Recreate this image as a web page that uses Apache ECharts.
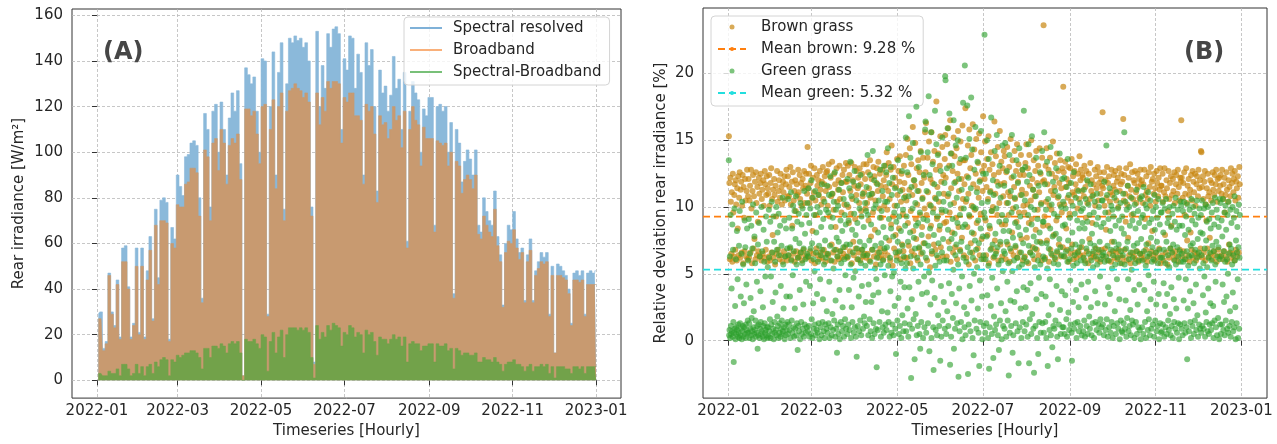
<!DOCTYPE html>
<html>
<head>
<meta charset="utf-8">
<script src="https://cdn.jsdelivr.net/npm/echarts@6/dist/echarts.min.js"></script>
<style>
  html, body { margin: 0; padding: 0; background: #fff; }
  #chart { width: 1277px; height: 444px; }
</style>
</head>
<body>
<div id="chart"></div>
<script>
// x values are days since 2022-01-01
const monthTicks = [0, 59, 120, 181, 243, 304, 365]
const monthLabels = ['2022-01', '2022-03', '2022-05', '2022-07', '2022-09', '2022-11', '2023-01']
const ticksA = [0, 20, 40, 60, 80, 100, 120, 140, 160]
const ticksB = [0, 5, 10, 15, 20]

// panel A: daily peak of the hourly series, one value per 2 days
const spectral = [29, 30, 14, 17, 47, 30, 24, 44, 19, 58, 59, 41, 19, 25, 58, 21, 58, 19, 48, 63,
  27, 75, 45, 79, 80, 78, 18, 67, 62, 90, 85, 81, 98, 99, 104, 105, 103, 80, 36, 117,
  110, 76, 118, 121, 100, 122, 110, 90, 115, 126, 118, 127, 95, 2, 137, 134, 130, 133, 118, 100,
  141, 140, 29, 120, 144, 90, 135, 148, 75, 130, 150, 148, 151, 149, 150, 146, 148, 140, 76, 8,
  153, 120, 138, 128, 152, 146, 154, 155, 152, 110, 141, 136, 151, 150, 128, 143, 135, 90, 148, 138,
  145, 120, 83, 136, 126, 129, 118, 125, 142, 128, 132, 110, 135, 61, 118, 131, 126, 123, 100, 119,
  116, 124, 124, 68, 120, 121, 118, 120, 100, 113, 38, 110, 104, 87, 96, 101, 97, 90, 101, 68,
  65, 80, 74, 70, 68, 83, 63, 55, 33, 60, 68, 66, 74, 62, 56, 58, 35, 55, 62, 35,
  48, 52, 56, 54, 56, 29, 50, 12, 51, 50, 48, 46, 40, 25, 47, 48, 46, 48, 29, 47,
  48, 47, 48]
const broadband = [27, 27, 13, 16, 46, 29, 23, 42, 18, 52, 52, 40, 18, 24, 50, 20, 50, 18, 44, 57,
  26, 68, 42, 70, 70, 69, 17, 60, 58, 77, 76, 76, 86, 87, 93, 93, 91, 72, 34, 101,
  98, 70, 104, 106, 92, 110, 104, 86, 103, 106, 104, 108, 88, 2, 119, 119, 116, 118, 108, 95,
  120, 121, 28, 110, 123, 84, 120, 126, 70, 118, 127, 128, 130, 128, 127, 124, 126, 122, 72, 7,
  126, 112, 124, 118, 131, 128, 131, 131, 130, 104, 124, 122, 126, 126, 116, 116, 114, 86, 121, 118,
  120, 108, 78, 116, 112, 113, 106, 110, 120, 114, 116, 102, 118, 58, 110, 120, 114, 112, 94, 111,
  106, 106, 106, 65, 105, 104, 103, 104, 94, 100, 36, 96, 94, 82, 88, 90, 88, 84, 90, 64,
  62, 72, 68, 65, 63, 75, 59, 52, 32, 56, 61, 60, 66, 58, 53, 56, 34, 52, 57, 34,
  46, 49, 52, 51, 52, 28, 46, 12, 46, 46, 45, 44, 38, 24, 44, 44, 43, 44, 28, 42,
  42, 42, 42]
const spectralMinusBroadband = [3, 3, 2, 2, 4, 3, 3, 5, 2, 7, 7, 5, 2, 3, 7, 3, 6, 2, 6, 7,
  3, 8, 6, 9, 10, 9, 2, 9, 8, 11, 10, 11, 12, 12, 13, 13, 12, 10, 5, 14,
  14, 10, 15, 15, 14, 16, 15, 12, 16, 17, 16, 17, 12, 0, 18, 17, 17, 18, 16, 14,
  20, 19, 4, 17, 21, 12, 19, 22, 10, 20, 23, 23, 23, 22, 23, 22, 23, 21, 10, 1,
  24, 18, 21, 19, 24, 22, 25, 24, 23, 15, 21, 20, 24, 23, 19, 21, 20, 12, 22, 20,
  21, 17, 11, 19, 18, 18, 16, 18, 20, 18, 19, 15, 19, 8, 16, 17, 16, 16, 13, 15,
  15, 16, 16, 8, 16, 15, 15, 16, 13, 14, 5, 14, 13, 11, 12, 12, 11, 11, 12, 8,
  8, 10, 9, 9, 8, 10, 8, 7, 4, 7, 8, 8, 9, 7, 7, 6, 4, 6, 7, 4,
  6, 6, 7, 6, 7, 3, 6, 1, 6, 6, 6, 5, 5, 3, 6, 6, 5, 6, 3, 6,
  6, 6, 6]

// panel B: relative deviation in tenths of a percent, one list per 14-day period
const brownGrassTenths = [
  [153, 118, 61, 122, 104, 65, 111, 59, 125, 96, 63, 109, 117, 68, 120, 102, 60, 114, 84, 123, 64, 107, 126, 62, 113, 119, 66, 101, 124, 58, 115, 92, 67, 121, 105, 63, 112, 128, 61, 108],
  [121, 62, 105, 116, 66, 128, 99, 58, 112, 124, 69, 108, 76, 119, 61, 126, 103, 64, 115, 89, 67, 122, 110, 63, 118, 125, 60, 106, 113, 65, 120, 101, 62, 127, 117, 68, 109, 123, 59, 114],
  [110, 63, 124, 101, 60, 118, 129, 66, 106, 79, 113, 62, 121, 109, 57, 116, 93, 65, 127, 104, 68, 112, 120, 61, 107, 125, 64, 115, 102, 59, 119, 111, 67, 123, 105, 63, 117, 128, 60, 108],
  [123, 64, 108, 115, 69, 130, 102, 61, 119, 86, 126, 65, 105, 112, 59, 120, 97, 67, 117, 109, 62, 128, 111, 63, 124, 106, 66, 118, 101, 60, 121, 114, 68, 127, 103, 64, 116, 125, 62, 110],
  [145, 114, 63, 125, 103, 67, 118, 131, 60, 107, 82, 122, 65, 111, 129, 58, 105, 94, 69, 124, 116, 64, 120, 109, 61, 127, 113, 66, 102, 119, 62, 130, 106, 68, 117, 123, 59, 112, 126, 65],
  [127, 101, 64, 132, 115, 93, 60, 122, 108, 72, 134, 110, 66, 98, 125, 59, 117, 85, 68, 129, 104, 63, 113, 120, 61, 131, 106, 67, 118, 96, 62, 124, 111, 65, 128, 102, 70, 119, 133, 63],
  [119, 62, 131, 100, 88, 124, 67, 112, 95, 133, 58, 106, 120, 74, 64, 116, 130, 91, 69, 109, 127, 61, 114, 122, 66, 103, 129, 60, 117, 97, 68, 125, 108, 63, 132, 111, 65, 121, 99, 62],
  [132, 103, 65, 126, 90, 114, 60, 135, 107, 78, 121, 68, 110, 96, 130, 63, 123, 83, 105, 57, 118, 129, 66, 112, 134, 62, 99, 125, 69, 116, 92, 64, 128, 108, 61, 120, 101, 67, 131, 115],
  [124, 141, 98, 64, 112, 133, 75, 106, 60, 128, 87, 146, 117, 56, 93, 130, 69, 101, 122, 79, 115, 63, 136, 109, 66, 127, 84, 119, 138, 61, 104, 125, 72, 113, 95, 67, 131, 118, 62, 108],
  [139, 105, 62, 151, 88, 124, 71, 113, 144, 58, 97, 132, 67, 109, 160, 82, 120, 64, 116, 148, 91, 76, 129, 102, 60, 135, 112, 69, 126, 94, 142, 65, 118, 85, 107, 137, 73, 122, 99, 156],
  [126, 163, 94, 60, 137, 111, 78, 149, 102, 55, 121, 86, 156, 65, 118, 134, 99, 72, 142, 107, 68, 128, 179, 91, 115, 62, 140, 104, 83, 131, 153, 70, 119, 96, 145, 63, 124, 110, 88, 136],
  [154, 122, 89, 63, 147, 108, 159, 74, 131, 96, 165, 59, 114, 140, 81, 127, 66, 152, 103, 138, 70, 119, 92, 144, 61, 125, 157, 85, 112, 133, 68, 149, 99, 121, 77, 161, 106, 135, 64, 117],
  [135, 174, 104, 62, 123, 85, 146, 110, 57, 158, 93, 129, 73, 139, 101, 66, 162, 117, 80, 143, 98, 60, 125, 151, 88, 114, 69, 133, 107, 155, 64, 120, 95, 141, 76, 127, 112, 168, 61, 131],
  [121, 149, 90, 64, 115, 136, 79, 106, 153, 58, 128, 84, 112, 141, 69, 97, 132, 100, 62, 124, 164, 75, 110, 138, 67, 119, 94, 145, 60, 126, 103, 157, 72, 117, 134, 87, 63, 129, 108, 142],
  [118, 138, 87, 61, 126, 103, 145, 72, 111, 94, 130, 59, 108, 151, 67, 122, 81, 135, 99, 64, 115, 142, 106, 70, 127, 89, 147, 62, 119, 132, 96, 66, 124, 109, 139, 76, 113, 128, 60, 101],
  [124, 96, 63, 133, 110, 147, 77, 102, 129, 58, 88, 139, 116, 66, 105, 150, 91, 121, 70, 113, 135, 61, 108, 127, 83, 142, 68, 118, 98, 131, 64, 111, 144, 74, 125, 103, 60, 137, 119, 86],
  [236, 120, 93, 62, 131, 104, 144, 75, 117, 86, 128, 59, 101, 137, 68, 112, 98, 125, 64, 149, 109, 79, 115, 133, 61, 122, 90, 140, 66, 107, 127, 72, 118, 102, 135, 63, 114, 96, 129, 70],
  [190, 126, 102, 63, 134, 115, 84, 121, 68, 107, 130, 59, 118, 95, 129, 65, 104, 136, 72, 111, 123, 61, 109, 127, 66, 117, 132, 62, 113, 99, 125, 67, 106, 138, 64, 120, 128, 70, 112, 124],
  [122, 64, 108, 131, 60, 115, 92, 127, 67, 103, 119, 58, 125, 76, 106, 133, 62, 112, 120, 88, 65, 109, 117, 63, 128, 101, 69, 123, 114, 61, 130, 105, 66, 118, 126, 59, 110, 121, 68, 116],
  [171, 114, 63, 126, 101, 69, 120, 83, 107, 130, 60, 118, 96, 123, 65, 104, 111, 59, 128, 74, 109, 67, 116, 124, 62, 113, 127, 66, 105, 119, 61, 122, 100, 68, 129, 112, 64, 117, 125, 58],
  [119, 62, 166, 105, 124, 68, 110, 89, 129, 60, 102, 116, 77, 122, 64, 108, 132, 58, 113, 94, 126, 66, 106, 120, 63, 118, 127, 61, 111, 103, 67, 125, 115, 59, 121, 107, 65, 128, 117, 62],
  [120, 65, 103, 117, 61, 128, 91, 109, 68, 123, 112, 59, 106, 73, 126, 63, 115, 101, 130, 67, 119, 82, 121, 64, 110, 125, 60, 114, 104, 66, 127, 118, 62, 108, 122, 69, 113, 129, 58, 116],
  [116, 64, 125, 104, 60, 111, 129, 79, 108, 66, 120, 114, 57, 97, 127, 62, 106, 118, 69, 123, 86, 109, 65, 121, 112, 61, 126, 103, 67, 117, 124, 63, 110, 128, 59, 115, 105, 68, 122, 119],
  [165, 122, 63, 107, 118, 67, 126, 94, 110, 61, 129, 103, 75, 116, 64, 121, 109, 59, 113, 81, 124, 68, 105, 127, 62, 119, 111, 66, 125, 101, 60, 117, 123, 65, 108, 128, 63, 114, 120, 69],
  [142, 141, 115, 62, 123, 106, 66, 119, 127, 60, 102, 90, 114, 69, 125, 108, 63, 111, 77, 120, 65, 105, 118, 61, 126, 113, 67, 109, 124, 64, 117, 128, 59, 104, 121, 68, 112, 122, 63, 116],
  [124, 64, 110, 128, 61, 106, 117, 67, 122, 96, 109, 63, 126, 113, 59, 104, 120, 72, 115, 66, 108, 129, 62, 118, 125, 65, 111, 121, 60, 127, 105, 68, 119, 114, 63, 123, 107, 66, 130, 117]
]
const greenGrassTenths = [
  [135, 4, 8, 63, 2, 94, 11, 5, 39, 7, 87, 3, 68, 14, -16, 6, 99, 9, 26, 1, 61, 10, 5, 82, 8, 46, 3, 12, 6, 71, 2, 97, 13, 4, 33, 9, 65, 1, 104, 7, 11, 57, 3, 28, 10, 90, 5, 70, 12, 2, 42, 8, 84, 6, 15, 60],
  [6, 91, 13, 2, 65, 9, 32, 4, 86, 17, 7, 69, 1, 102, 10, 22, 5, 78, 8, 58, 15, 3, 96, 6, 44, 11, -6, 72, 4, 12, 88, 2, 63, 9, 37, 14, 5, 100, 7, 67, 3, 25, 11, 83, 1, 59, 13, 6, 48, 8, 93, 4, 74, 10, 2, 55],
  [10, 3, 98, 62, 7, 16, 89, 2, 48, 12, 104, 5, 66, 29, 9, 93, 1, 74, 14, 6, 59, 36, 8, 100, 4, 68, 18, 81, 11, 2, 95, 64, 6, 13, 86, 3, 41, 9, 71, 15, 5, 107, 7, 57, 24, 10, 90, 1, 63, 12, 4, 84, 33, 8, 69, 14],
  [5, 106, 64, 12, 92, 8, 33, 70, 2, 111, 60, 15, 84, 6, 49, 101, 10, 67, 3, 97, 24, 9, 76, 108, 4, 57, 13, 89, -7, 62, 11, 95, 7, 73, 38, 1, 103, 66, 14, 87, 5, 58, 99, 9, 27, 69, 3, 112, 12, 80, 61, 6, 44, 94, 10, 65],
  [103, 7, 63, 114, 11, 88, 3, 41, 99, 69, 5, 120, 16, 73, 2, 107, 28, 61, 9, 94, 52, 12, 112, 4, 66, 81, 8, 35, 100, 6, 59, 109, 13, 71, 1, 96, 46, 10, 64, 85, 4, 117, 68, 14, 31, 91, 7, 57, 104, 2, 75, 12, 62, 98, 9, 22],
  [116, 6, 65, 96, 13, 109, 44, 2, 71, 123, 10, 85, 60, 4, 110, 20, 92, 8, 54, 104, 15, 68, 126, 3, 30, 98, 9, 77, -9, 63, 12, 101, 5, 74, 113, 38, 1, 67, 90, 14, 58, 118, 7, 82, 25, 11, 70, 106, 3, 61, 94, 16, 49, 87, 9, 72],
  [102, 5, 121, 63, 12, 90, 38, 114, 8, 72, 134, 57, 2, 108, 25, 83, 14, 66, 119, 47, 6, 95, 127, 10, 52, 79, 3, 105, -12, 69, 88, 11, 61, 116, 33, 7, 99, 74, 15, 124, 58, 4, 93, 41, 68, 110, 9, 64, 85, 18, 71, 13, 103, 56, 29, 97],
  [115, 11, 64, 139, 94, 4, 42, 109, 75, 16, 124, 59, 7, 87, 29, 110, 2, 68, 142, 34, 13, 99, 120, 5, 54, 71, 102, 9, 46, -20, 62, 117, 8, 81, 36, 105, 66, 14, 92, 128, 57, 3, 73, 97, 22, 112, 10, 60, 85, 6, 131, 69, 49, 104, 12, 77],
  [126, 8, 70, 104, 21, 144, 56, 14, 91, 118, 3, 62, 37, 130, 84, 6, 109, 48, 12, 122, 78, 4, 51, 96, 26, 114, 9, 66, -10, 89, 60, 101, 15, 74, 135, 32, 5, 93, 67, 11, 112, 44, 82, 2, 58, 127, 19, 71, 98, 7, 63, 107, 40, 13, 86, 54],
  [152, 7, 93, 58, 126, 24, 74, 3, 108, 168, 40, 12, 81, 137, 63, -28, 115, 31, 9, 99, 148, 54, 16, 77, 120, -14, 69, 103, 20, 86, 175, 4, 62, 112, 11, 88, 44, 130, 70, 5, 96, -6, 57, 141, 14, 79, 35, 106, 66, 2, 91, 124, 48, 10, 73, 158],
  [164, 62, 6, 112, 36, 90, 141, 13, 71, 183, 51, -8, 124, 84, 27, 101, 156, 2, 67, 45, 132, 96, 10, -22, 79, 117, 32, 172, 56, 8, 106, 147, 64, 4, 93, 139, 19, 73, 110, 11, 59, 86, -15, 127, 41, 3, 98, 66, 152, 15, 76, 104, 29, 60, 118, 9],
  [198, 195, 97, 5, 60, 129, 22, 159, 83, 11, 110, 43, 170, 69, -18, 102, 140, 3, 76, 35, 131, 91, 17, 53, 165, -6, 118, 80, 9, 64, 146, 28, 72, 107, 13, 88, 150, 57, -27, 121, 39, 7, 94, 67, 136, 14, 74, 113, 48, 1, 85, 178, 62, 99, 25, 10],
  [206, 87, 4, 137, 59, 106, 20, 176, 70, -25, 122, 12, 94, 151, 41, 66, 7, 114, 182, 30, 81, 143, 2, 62, 100, -11, 50, 128, 15, 75, 160, 99, 68, 9, 111, 55, 134, 24, 90, 6, 73, -19, 119, 45, 14, 84, 157, 61, 103, 33, 1, 78, 125, 64, 11, 96],
  [229, 92, 6, 61, 125, 13, 78, 150, 34, 104, 2, 56, 136, -21, 86, 10, 111, 68, 26, 167, 97, 5, 47, 72, 120, -13, 109, 18, 63, 142, 8, 80, 65, 12, 99, 154, 39, 70, 4, 116, 57, -7, 89, 131, 15, 74, 107, 28, 60, 1, 94, 146, 52, 11, 82, 67],
  [116, 9, 65, 148, 22, 90, 3, 74, 127, 44, 15, 103, 58, -26, 82, 139, 6, 69, 30, 112, 11, 96, 154, 52, -9, 77, 4, 123, 60, 29, 107, 88, 71, 13, 100, 135, 37, 62, 7, 118, 85, -17, 55, 144, 10, 79, 93, 24, 66, 2, 109, 57, 128, 14, 73, 40],
  [172, 62, 7, 105, 130, 25, 83, 12, 59, 119, 38, 3, 94, 147, 71, -17, 124, 16, 66, 43, 100, 5, 87, 153, 20, 64, 113, 9, 78, -24, 98, 55, 69, 11, 108, 137, 31, 74, 2, 91, 60, -10, 116, 47, 14, 81, 126, 57, 6, 102, 35, 73, 142, 13, 89, 63],
  [89, 6, 156, 61, 117, 14, 33, 98, 2, 73, 134, 54, -19, 106, 19, 69, 125, 8, 46, 84, 145, 4, 65, 102, 27, -5, 78, 119, 11, 58, 95, 9, 62, 112, 15, 80, 129, 41, 67, 3, 93, -14, 57, 108, 12, 76, 140, 23, 70, 5, 100, 64, 37, 121, 10, 86],
  [104, 10, 63, 122, 5, 87, 34, 99, 67, 16, 115, 3, 59, 136, 75, 21, 109, 8, 61, 92, 45, 12, 118, 69, 6, -15, 81, 101, 29, 56, 126, 9, 64, 95, 13, 72, 107, 38, 2, 58, 90, 14, 66, 112, 25, 7, 84, 70, 103, 11, 60, 97, 42, 4, 74, 88],
  [99, 7, 62, 113, 15, 84, 3, 58, 106, 32, 69, 11, 120, 89, 5, 44, 102, 65, 18, 94, 9, 73, 117, 25, 60, 4, 80, 108, 13, 55, 67, 96, 2, 71, 104, 37, 14, 63, 87, 8, 110, 57, 28, 92, 12, 68, 100, 6, 74, 48, 16, 61, 85, 10, 105, 64],
  [105, 12, 66, 88, 4, 119, 59, 27, 96, 8, 63, 146, 16, 109, 71, 3, 40, 91, 60, 10, 114, 35, 82, 6, 68, 101, 14, 54, 98, 2, 64, 93, 11, 74, 107, 22, 57, 86, 5, 69, 111, 46, 13, 62, 99, 9, 72, 90, 31, 1, 58, 103, 15, 67, 84, 7],
  [93, 6, 64, 110, 13, 80, 156, 57, 9, 104, 30, 69, 3, 98, 17, 74, 116, 46, 7, 61, 100, 11, 86, 23, 66, 4, 107, 53, 15, 90, 62, 12, 95, 71, 38, 2, 102, 58, 84, 14, 67, 113, 5, 73, 27, 97, 10, 60, 88, 42, 8, 65, 106, 1, 76, 92],
  [108, 10, 60, 94, 5, 115, 67, 38, 85, 14, 102, 56, 2, 72, 99, 22, 63, 8, 111, 49, 16, 88, 65, 4, 105, 31, 77, 9, 91, 59, 70, 12, 97, 61, 44, 3, 109, 83, 15, 66, 100, 27, 7, 74, 92, 11, 58, 106, 35, 1, 68, 87, 13, 62, 96, 6],
  [96, 7, 62, 103, 12, 81, 43, 68, 3, 99, 26, 58, 10, 106, 74, 5, 35, 88, 64, 15, 92, 8, 55, 100, 20, 69, 4, 85, 40, 11, 66, 95, 2, 72, 101, 31, 14, 60, 89, 9, 107, 57, 24, 83, 6, 70, 98, 13, 63, 47, 1, 86, 67, 12, 104, 59],
  [101, 9, 65, 86, 4, 97, 59, 30, 104, 13, 61, 79, 6, 46, 93, 10, 67, -14, 102, 24, 56, 83, 7, 63, 98, 37, 14, 71, 2, 106, 64, 90, 11, 73, 100, 28, 5, 58, 95, 15, 68, 87, 42, 8, 105, 62, 19, 76, 3, 92, 66, 12, 99, 54, 9, 81],
  [94, 6, 64, 105, 11, 80, 34, 58, 9, 99, 48, 69, 3, 102, 21, 75, 14, 89, 55, 7, 100, 39, 62, 5, 91, 12, 66, 28, 84, 8, 60, 96, 13, 71, 103, 26, 2, 67, 87, 15, 107, 57, 44, 10, 74, 98, 4, 63, 92, 17, 70, 85, 1, 61, 106, 12],
  [103, 5, 63, 90, 12, 78, 42, 106, 8, 67, 29, 96, 4, 59, 101, 15, 83, 33, 61, 9, 94, 50, 6, 104, 65, 11, 72, 22, 98, 3, 69, 88, 14, 57, 100, 36, 7, 64, 92, 10, 108, 60, 25, 1, 75, 97, 13, 66, 85, 46, 2, 70, 102, 9, 62, 94]
]
const meanBrown = 9.28
const meanGreen = 5.32

const X_MIN = -18.25
const X_MAX = 383.2
const font = 'DejaVu Sans'
const textColor = '#262626'

// 2-day slot -> centre day
const slotData = (arr) => arr.map((v, i) => [i * 2 + 1, v])
// spread the values of each 14-day period over its days
const periodPoints = (periods) => {
  const pts = []
  periods.forEach((vals, p) => {
    vals.forEach((v, j) => {
      pts.push([p * 14 + (j + 0.5) * 14 / vals.length, v / 10])
    })
  })
  return pts
}

const gridLine = { show: true, lineStyle: { color: '#b9b9b9', width: 0.8, type: [3, 2] } }

const xAxisFor = (gridIndex) => ({
  type: 'value',
  gridIndex: gridIndex,
  min: X_MIN,
  max: X_MAX,
  name: 'Timeseries [Hourly]',
  nameLocation: 'middle',
  nameGap: 25,
  nameTextStyle: { fontFamily: font, fontSize: 15, color: textColor },
  axisLine: { show: false },
  axisTick: { show: true, length: 5, lineStyle: { color: '#333' }, customValues: monthTicks },
  axisLabel: {
    fontFamily: font, fontSize: 15, color: textColor, margin: 6,
    customValues: monthTicks,
    formatter: (v) => monthLabels[monthTicks.indexOf(v)]
  },
  splitLine: Object.assign({ customValues: monthTicks }, gridLine)
})

const yAxisFor = (gridIndex, min, max, ticks, name, gap) => ({
  type: 'value',
  gridIndex: gridIndex,
  min: min,
  max: max,
  name: name,
  nameLocation: 'middle',
  nameGap: gap,
  nameTextStyle: { fontFamily: font, fontSize: 15, color: textColor },
  axisLine: { show: false },
  axisTick: { show: true, length: 5, lineStyle: { color: '#333' }, customValues: ticks },
  axisLabel: { fontFamily: font, fontSize: 15, color: textColor, margin: 9, customValues: ticks },
  splitLine: Object.assign({ customValues: ticks }, gridLine)
})

// filled step area, reads like the dense hourly trace
const areaSeries = (name, arr, color, z) => ({
  name: name, type: 'line', xAxisIndex: 0, yAxisIndex: 0, z: z,
  step: 'middle', symbol: 'none', showSymbol: false, color: color,
  lineStyle: { width: 0.6, color: color },
  areaStyle: { color: color, opacity: 1 },
  data: slotData(arr)
})

const option = {
  animation: false,
  backgroundColor: '#fff',
  grid: [
    { left: 72, top: 9, width: 549, height: 393, show: true, borderColor: '#333', borderWidth: 1, backgroundColor: 'transparent' },
    { left: 703, top: 8, width: 564, height: 394, show: true, borderColor: '#333', borderWidth: 1, backgroundColor: 'transparent' }
  ],
  xAxis: [xAxisFor(0), xAxisFor(1)],
  yAxis: [
    yAxisFor(0, -7.8, 162.8, ticksA, 'Rear irradiance [W/m²]', 45),
    yAxisFor(1, -4.3, 24.9, ticksB, 'Relative deviation rear irradiance [%]', 34)
  ],
  legend: [
    {
      left: 404, top: 17, orient: 'vertical',
      padding: [2, 8, 4, 6], itemGap: 4, itemWidth: 32, itemHeight: 2,
      backgroundColor: 'rgba(255,255,255,0.8)', borderColor: '#d4d4d4', borderWidth: 1, borderRadius: 4,
      textStyle: { fontFamily: font, fontSize: 15, color: textColor, lineHeight: 18, padding: [0, 0, 0, 6] },
      data: [
        { name: 'Spectral resolved', icon: 'rect', itemStyle: { color: '#7fb1d8' } },
        { name: 'Broadband', icon: 'rect', itemStyle: { color: '#f9b07a' } },
        { name: 'Spectral-Broadband', icon: 'rect', itemStyle: { color: '#78c078' } }
      ]
    },
    {
      left: 711, top: 16, orient: 'vertical',
      padding: [2, 8, 4, 6], itemGap: 4, itemWidth: 28, itemHeight: 5,
      backgroundColor: 'rgba(255,255,255,0.8)', borderColor: '#d4d4d4', borderWidth: 1, borderRadius: 4,
      textStyle: { fontFamily: font, fontSize: 15, color: textColor, lineHeight: 18, padding: [0, 0, 0, 10] },
      data: ['Brown grass', 'Mean brown: 9.28 %', 'Green grass', 'Mean green: 5.32 %']
    }
  ],
  graphic: [
    { type: 'text', left: 103, top: 41, z: 20, style: { text: '(A)', font: 'bold 24px "DejaVu Sans"', fill: '#464646' } },
    { type: 'text', left: 1184, top: 41, z: 20, style: { text: '(B)', font: 'bold 24px "DejaVu Sans"', fill: '#464646' } }
  ],
  series: [
    areaSeries('Spectral resolved', spectral, '#8bb9da', 2),
    areaSeries('Broadband', broadband, '#c89a70', 3),
    areaSeries('Spectral-Broadband', spectralMinusBroadband, '#72a24a', 4),
    {
      name: 'Brown grass', type: 'scatter', xAxisIndex: 1, yAxisIndex: 1, z: 2,
      symbolSize: 6, itemStyle: { color: '#c8860f', opacity: 0.7 },
      data: periodPoints(brownGrassTenths)
    },
    {
      name: 'Mean brown: 9.28 %', type: 'line', xAxisIndex: 1, yAxisIndex: 1, z: 3,
      symbol: 'none', showSymbol: false, color: '#ff7f0e',
      lineStyle: { color: '#ff7f0e', width: 1.8, type: [7, 4] },
      data: [[X_MIN, meanBrown], [X_MAX, meanBrown]]
    },
    {
      name: 'Green grass', type: 'scatter', xAxisIndex: 1, yAxisIndex: 1, z: 4,
      symbolSize: 6, itemStyle: { color: '#2ca02c', opacity: 0.62 },
      data: periodPoints(greenGrassTenths)
    },
    {
      name: 'Mean green: 5.32 %', type: 'line', xAxisIndex: 1, yAxisIndex: 1, z: 5,
      symbol: 'none', showSymbol: false, color: '#22dede',
      lineStyle: { color: '#22dede', width: 1.8, type: [7, 4] },
      data: [[X_MIN, meanGreen], [X_MAX, meanGreen]]
    }
  ]
}

const chart = echarts.init(document.getElementById('chart'), null, { renderer: 'canvas' })
chart.setOption(option)
</script>
</body>
</html>
